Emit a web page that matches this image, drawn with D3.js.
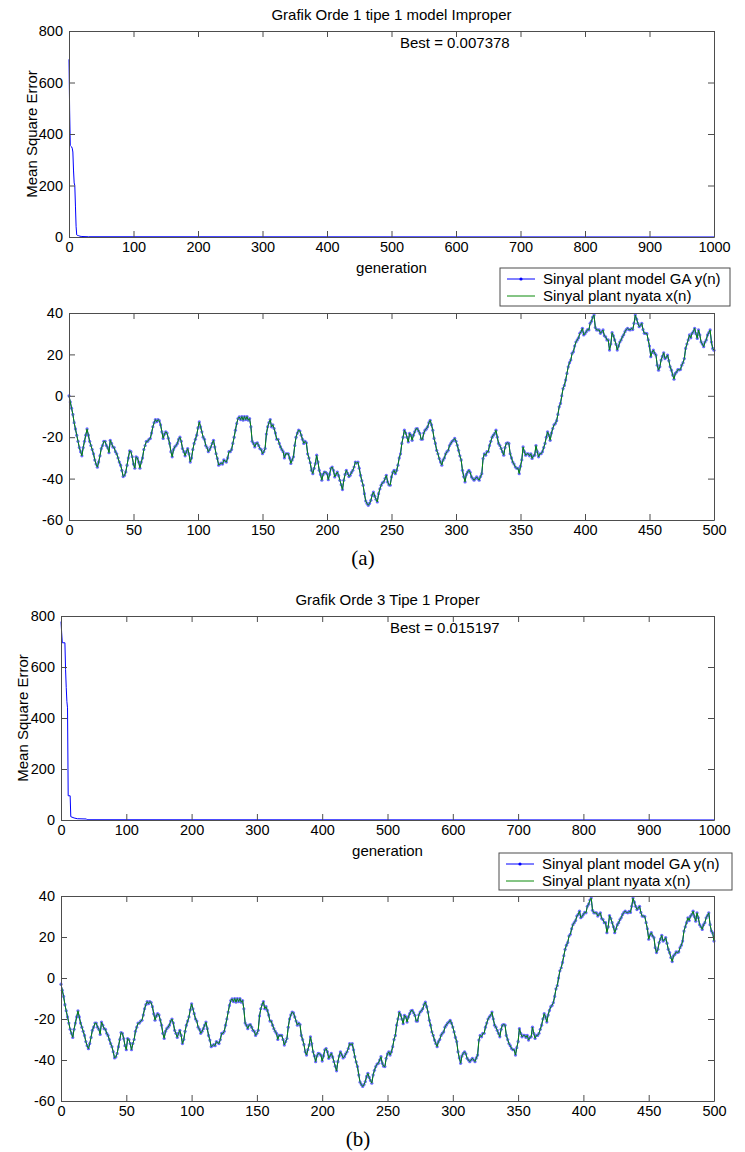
<!DOCTYPE html>
<html>
<head>
<meta charset="utf-8">
<script src="https://cdn.jsdelivr.net/npm/d3@7"></script>
<style>
  body { margin: 0; background: #fff; }
  text { font-family: "Liberation Sans", Arial, sans-serif; }
</style>
</head>
<body>
<div id="chart-area"></div>
<script>
// MSE per generation (only the start moves)
let genA = [0, 1, 2, 3, 4, 5, 6, 7, 8, 9, 10, 11, 12, 13, 15, 17, 20, 30, 1000];
let mseA = [690, 490, 355, 352, 350, 345, 330, 260, 210, 200, 120, 40, 8, 6, 5, 3, 2, 1, 0.007378];
let genB = [0, 1, 2, 6, 7, 8, 9, 10, 11, 14, 15, 20, 25, 39, 40, 1000];
let mseB = [778, 735, 695, 695, 590, 520, 465, 440, 95, 95, 13, 8, 5, 4, 1, 0.015197];

// plant signal, n = 0..500
let sigA = [
  0, -3, -6, -9, -13, -16, -19, -22, -25, -27,
  -29, -25, -22, -19, -16, -19, -22, -24, -26, -28,
  -31, -33, -34.5, -32, -29, -25.5, -24, -22, -22, -24,
  -25, -27.5, -21.5, -23, -24.7, -25, -27, -28, -30, -32,
  -33.5, -36, -39, -38.5, -36.8, -33.5, -30, -26.6, -27, -29.5,
  -33, -35, -29.5, -30, -32, -35, -32, -30, -26, -24,
  -22, -22, -21, -20.6, -18, -15, -13, -11.5, -12.5, -11.5,
  -12, -14, -17.4, -20.6, -18.5, -17.4, -18, -20.5, -23, -27,
  -29.5, -26, -24.7, -24, -23, -21, -20, -22, -25.5, -27,
  -29, -27, -25.5, -28, -32, -30, -26, -23, -21, -19,
  -15.5, -12.6, -15, -17.4, -20, -21, -24, -25, -27, -26,
  -24.7, -23, -21.5, -24.7, -28, -30.3, -33.5, -33, -32.5, -33,
  -31, -31.5, -32, -30, -27, -27, -26, -23, -20, -16.6,
  -13.4, -11, -10.2, -11.5, -10, -11.8, -10, -11.5, -10, -11.8,
  -11, -15, -22, -23, -24.7, -23, -22.7, -24, -25.5, -26,
  -28, -27, -25.5, -18.5, -15, -13, -11.5, -15, -14, -15.8,
  -18, -21, -21, -23, -24.7, -26, -27, -30, -28, -28,
  -28, -30, -32.7, -31, -29.5, -24, -20, -18, -16.6, -17,
  -19, -21, -23, -22, -22.7, -28, -30, -32.4, -36, -37.6,
  -35, -32.7, -28.7, -32, -36, -38, -40.8, -38, -36.8, -37,
  -37.6, -40.5, -38, -35, -34.4, -36, -39.2, -38, -36.8, -38.5,
  -40.8, -43, -45.3, -40.8, -38, -36, -37.5, -39, -38.4, -37,
  -36, -34.4, -32, -32.5, -32, -35, -38.4, -41, -43.2, -47.3,
  -50.8, -52, -52.9, -52, -50.5, -48, -46.5, -48.5, -50, -51.3,
  -47.3, -45, -43.2, -42, -41.6, -40, -38.4, -41.6, -43, -43.2,
  -39.2, -37, -36, -37.6, -36, -33.5, -30, -28, -23, -20,
  -16.6, -18, -20, -22.3, -18.2, -19, -21.5, -19, -17.4, -16,
  -15.8, -17, -18.2, -21, -21, -18, -16.6, -16, -15, -13,
  -11.8, -14, -16.6, -20.6, -23, -26.3, -28, -30.3, -32, -33.5,
  -31, -30, -28, -27, -26.3, -24, -23, -22, -21.5, -20.6,
  -22, -23.9, -26.3, -29, -31, -36, -39, -41.6, -38, -36.8,
  -36, -37, -39.2, -40, -40.8, -40, -39.2, -40, -40.8, -39,
  -37.6, -30.3, -28, -28.7, -27, -27, -24, -22, -20, -19,
  -18.2, -16.6, -20, -23, -24, -25.5, -27, -28.7, -25, -23,
  -22.7, -23, -28, -30, -32, -33, -34.4, -35, -35, -37.6,
  -34, -31, -24.7, -27, -28.7, -28, -28, -29, -28, -30.3,
  -29, -28.7, -24, -27, -29.5, -28, -28, -27, -25, -23,
  -20, -17.4, -19, -21.5, -18, -15.8, -14, -13.4, -12, -9,
  -5.3, -3.7, 0, 3.5, 5, 7.6, 10.8, 14, 16, 17.3,
  20.5, 21.3, 24, 26, 27, 28, 30.2, 31, 32.6, 29.4,
  30, 31, 32, 31.8, 35, 36, 38, 39, 33, 31.8,
  31.8, 31.8, 30.2, 31, 31.8, 29, 28.5, 27, 27, 22.1,
  25, 30.5, 29, 27, 25, 22.1, 24, 26, 27, 28.5,
  29.5, 31, 32, 32.6, 32, 31.8, 32.5, 32, 35, 39,
  37, 35, 33.4, 34, 35, 32, 30.2, 30.2, 30, 27,
  24, 18.9, 21, 22.1, 20.5, 19.7, 14.8, 12.4, 14, 17.3,
  19, 20.8, 18, 18.5, 19.7, 17, 14, 12.4, 10, 8,
  10.8, 11.5, 12.7, 12.5, 12.7, 14.8, 16, 18, 22.9, 25,
  27, 29.4, 28, 30.2, 31, 32.6, 30, 27.7, 31.8, 29.4,
  26, 25, 23.7, 26, 27, 29.4, 30.5, 31.8, 26, 22.9,
  22
];
// plot (b) shows the same signal one sample later, ending near 18
let sigB = sigA.slice(1).concat([18]);

let mseTicksX = [0, 100, 200, 300, 400, 500, 600, 700, 800, 900, 1000];
let mseTicksY = [0, 200, 400, 600, 800];
let sigTicksX = [0, 50, 100, 150, 200, 250, 300, 350, 400, 450, 500];
let sigTicksY = [-60, -40, -20, 0, 20, 40];

let titles = ["Grafik Orde 1 tipe 1 model Improper", "Grafik Orde 3 Tipe 1 Proper"];
let bests = ["Best = 0.007378", "Best = 0.015197"];
let legendNames = ["Sinyal plant model GA y(n)", "Sinyal plant nyata x(n)"];
let captions = ["(a)", "(b)"];

let svg = d3.select("#chart-area").append("svg")
  .attr("width", 745)
  .attr("height", 1152);

let frameColor = "#4d4d4d";

function drawFrame(g, x, y, ticksX, ticksY) {
  let bottom = g.append("g")
    .attr("transform", "translate(0," + y.range()[0] + ")")
    .call(d3.axisBottom(x).tickValues(ticksX).tickSizeInner(-6).tickSizeOuter(0).tickPadding(5).tickFormat(d => String(d)));
  let top = g.append("g")
    .attr("transform", "translate(0," + y.range()[1] + ")")
    .call(d3.axisTop(x).tickValues(ticksX).tickSizeInner(-6).tickSizeOuter(0).tickFormat(""));
  let left = g.append("g")
    .attr("transform", "translate(" + x.range()[0] + ",0)")
    .call(d3.axisLeft(y).tickValues(ticksY).tickSizeInner(-6).tickSizeOuter(0).tickPadding(6).tickFormat(d => String(d)));
  let right = g.append("g")
    .attr("transform", "translate(" + x.range()[1] + ",0)")
    .call(d3.axisRight(y).tickValues(ticksY).tickSizeInner(-6).tickSizeOuter(0).tickFormat(""));
  [bottom, top, left, right].forEach(a => {
    a.selectAll("path, line").attr("stroke", frameColor);
    a.selectAll("text").attr("font-size", 14.5).attr("fill", "#000")
      .attr("font-family", "Liberation Sans, Arial, sans-serif");
  });
}

function msePanel(cfg) {
  let x = d3.scaleLinear().domain([0, 1000]).range([cfg.x0, cfg.x1]);
  let y = d3.scaleLinear().domain([0, 800]).range([cfg.yb, cfg.yt]);
  let g = svg.append("g");
  let pts = cfg.gen.map((d, i) => [d, cfg.mse[i]]);
  g.append("path")
    .datum(pts)
    .attr("fill", "none")
    .attr("stroke", "#0000ff")
    .attr("stroke-width", 1)
    .attr("d", d3.line().x(d => x(d[0])).y(d => y(d[1])));
  drawFrame(g, x, y, mseTicksX, mseTicksY);
  let cx = (cfg.x0 + cfg.x1) / 2;
  g.append("text").attr("x", cx).attr("y", cfg.yt - 11)
    .attr("text-anchor", "middle").attr("font-size", 15).text(cfg.title);
  g.append("text").attr("x", cfg.bestX).attr("y", cfg.yt + 17)
    .attr("font-size", 15).text(cfg.best);
  g.append("text").attr("x", cx).attr("y", cfg.yb + 36)
    .attr("text-anchor", "middle").attr("font-size", 15).text("generation");
  g.append("text")
    .attr("transform", "translate(" + cfg.labX + "," + ((cfg.yt + cfg.yb) / 2) + ") rotate(-90)")
    .attr("text-anchor", "middle").attr("font-size", 15).text("Mean Square Error");
}

function sigPanel(cfg) {
  let x = d3.scaleLinear().domain([0, 500]).range([cfg.x0, cfg.x1]);
  let y = d3.scaleLinear().domain([-60, 40]).range([cfg.yb, cfg.yt]);
  let g = svg.append("g");
  let line = d3.line().x((d, i) => x(i)).y(d => y(d));
  g.append("path").datum(cfg.sig)
    .attr("fill", "none").attr("stroke", "#0000ff").attr("stroke-width", 1)
    .attr("d", line);
  g.selectAll("circle").data(cfg.sig).enter().append("circle")
    .attr("cx", (d, i) => x(i))
    .attr("cy", d => y(d))
    .attr("r", 1.6)
    .attr("fill", "#6b6bff");
  g.append("path").datum(cfg.sig)
    .attr("fill", "none").attr("stroke", "#0a8a0a").attr("stroke-width", 1)
    .attr("d", line);
  drawFrame(g, x, y, sigTicksX, sigTicksY);

  // legend
  let lg = g.append("g");
  lg.append("rect")
    .attr("x", cfg.lx0).attr("y", cfg.ly0)
    .attr("width", cfg.lx1 - cfg.lx0).attr("height", cfg.ly1 - cfg.ly0)
    .attr("fill", "#fff").attr("stroke", frameColor);
  legendNames.forEach((name, i) => {
    let cy = cfg.ly0 + 11 + i * 17;
    lg.append("line")
      .attr("x1", cfg.lx0 + 7).attr("x2", cfg.lx0 + 35)
      .attr("y1", cy).attr("y2", cy)
      .attr("stroke", i === 0 ? "#0000ff" : "#0a8a0a");
    if (i === 0) {
      lg.append("circle").attr("cx", cfg.lx0 + 21).attr("cy", cy).attr("r", 1.6).attr("fill", "#0000ff");
    }
    lg.append("text").attr("x", cfg.lx0 + 43).attr("y", cy + 5)
      .attr("font-size", 15).text(name);
  });

  g.append("text").attr("x", cfg.capX).attr("y", cfg.yb + 45)
    .attr("text-anchor", "middle")
    .style("font-family", "Liberation Serif, 'Times New Roman', serif")
    .attr("font-size", 21).text(cfg.caption);
}

msePanel({ x0: 69, x1: 714, yt: 31, yb: 237, gen: genA, mse: mseA,
  title: titles[0], best: bests[0], bestX: 400, labX: 37 });
sigPanel({ x0: 69, x1: 714, yt: 313, yb: 520, sig: sigA,
  lx0: 500, lx1: 730, ly0: 268, ly1: 306, capX: 363, caption: captions[0] });
msePanel({ x0: 61, x1: 714, yt: 616, yb: 820, gen: genB, mse: mseB,
  title: titles[1], best: bests[1], bestX: 390, labX: 28 });
sigPanel({ x0: 61, x1: 714, yt: 896, yb: 1101, sig: sigB,
  lx0: 499, lx1: 732, ly0: 853, ly1: 890, capX: 358, caption: captions[1] });
</script>
</body>
</html>
